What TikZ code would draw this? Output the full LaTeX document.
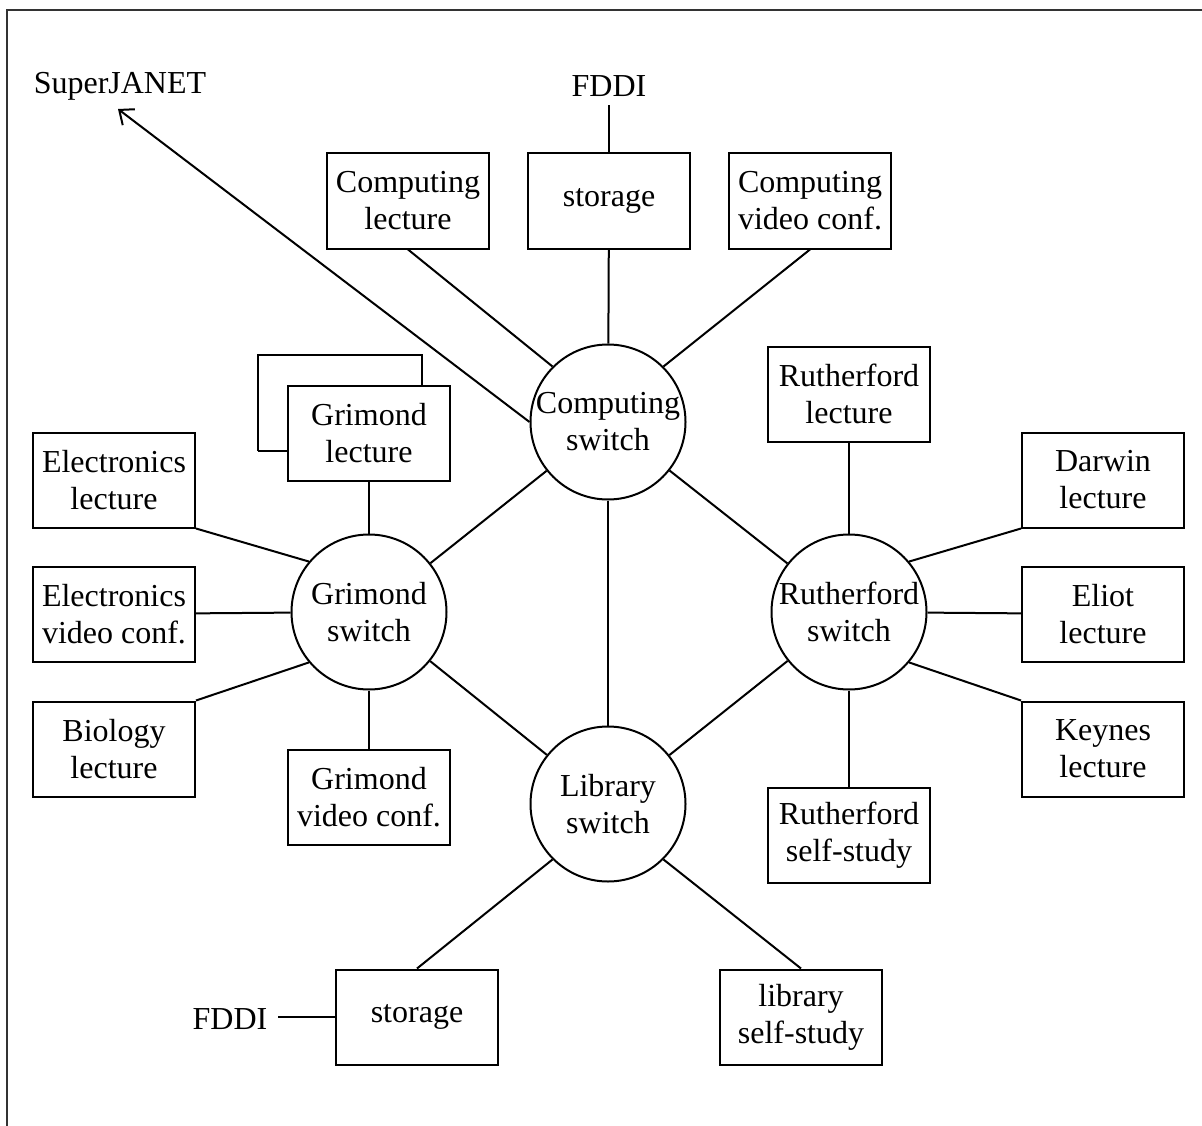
\documentclass[tikz,border=0pt]{standalone}
\usepackage{fontspec}
\setmainfont{Liberation Serif}
\usetikzlibrary{arrows.meta}
\begin{document}
\begin{tikzpicture}[x=1pt,y=-1pt,
  every node/.style={font=\fontsize{32}{37}\selectfont},
  boxnode/.style={draw,line width=2pt,minimum width=162pt,minimum height=95pt,inner sep=0pt,align=center},
  switchnode/.style={draw,circle,line width=2pt,minimum size=155pt,inner sep=0pt,align=center},
  link/.style={line width=2pt},
  plainlabel/.style={inner sep=0pt}]
\useasboundingbox (0,0) rectangle (1202,1126);
\draw[line width=1.4pt,black!80] (7,1126) coordinate (fl) -- (7,10) coordinate (fc) -- (1202,10) coordinate (fr);

% switches
\node[switchnode] (CS) at (608,422) {Computing\\switch};
\node[switchnode] (GS) at (369,612) {Grimond\\switch};
\node[switchnode] (RS) at (849,612) {Rutherford\\switch};
\node[switchnode] (LS) at (608,804) {Library\\switch};

% boxes around computing
\node[boxnode] (CL) at (408,201) {Computing\\lecture};
\node[boxnode] (ST) at (609,201) {storage};
\node[boxnode] (CV) at (810,201) {Computing\\video conf.};

% grimond
\draw[link] (258,451) coordinate (gb1) -- (258,355) coordinate (gb2) -- (422,355) coordinate (gb3) -- (422,386) coordinate (gb4);
\draw[link] (258,451) -- (288,451) coordinate (gb5);
\node[boxnode] (GL) at (369,433) {Grimond\\lecture};
\node[boxnode] (EL) at (114,480) {Electronics\\lecture};
\node[boxnode] (EV) at (114,614) {Electronics\\video conf.};
\node[boxnode] (BL) at (114,749) {Biology\\lecture};
\node[boxnode] (GV) at (369,797) {Grimond\\video conf.};

% rutherford
\node[boxnode] (RL) at (849,394) {Rutherford\\lecture};
\node[boxnode] (DL) at (1103,480) {Darwin\\lecture};
\node[boxnode] (EoL) at (1103,614) {Eliot\\lecture};
\node[boxnode] (KL) at (1103,749) {Keynes\\lecture};
\node[boxnode] (RSS) at (849,835) {Rutherford\\self-study};

% library
\node[boxnode] (SB) at (417,1017) {storage};
\node[boxnode] (LSS) at (801,1017) {library\\self-study};

% labels
\node[plainlabel] (SJ) at (120,86) {SuperJANET};
\node[plainlabel] (FT) at (609,86) {FDDI};
\node[plainlabel] (FB) at (230,1019) {FDDI};
\coordinate (ftend) at (609,105);
\coordinate (sjtip) at (118,109);

% connectors
\draw[link] (CL.south) -- (CS.135);
\draw[link] (ST) -- (CS);
\draw[link] (CV.south) -- (CS.45);
\draw[link] (ST.north) -- (ftend);
\draw[link,-{Straight Barb[length=12pt,width=20pt,line width=2pt]}] (CS.west) -- (sjtip);
\draw[link] (CS) -- (GS);
\draw[link] (CS) -- (RS);
\draw[link] (CS) -- (LS);
\draw[link] (GS) -- (LS);
\draw[link] (RS) -- (LS);

\draw[link] (GL) -- (GS);
\draw[link] (EL.south east) -- (GS.140);
\draw[link] (EV) -- (GS);
\draw[link] (BL.north east) -- (GS.220);
\draw[link] (GV) -- (GS);

\draw[link] (RL) -- (RS);
\draw[link] (DL.south west) -- (RS.40);
\draw[link] (EoL) -- (RS);
\draw[link] (KL.north west) -- (RS.-40);
\draw[link] (RSS) -- (RS);

\draw[link] (LS.225) -- (SB.north);
\draw[link] (LS.-45) -- (LSS.north);
\draw[link] (SB.west) -- ([xshift=-57pt]SB.west) coordinate (fbend);
\end{tikzpicture}
\end{document}
